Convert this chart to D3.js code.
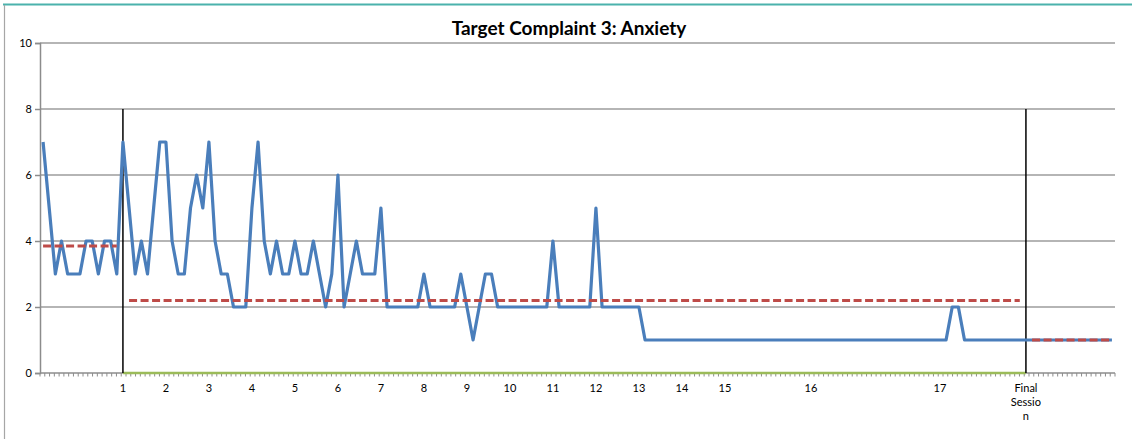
<!DOCTYPE html>
<html>
<head>
<meta charset="utf-8">
<script src="https://cdn.jsdelivr.net/npm/d3@7/dist/d3.min.js"></script>
<style>
  body { margin: 0; background: #ffffff; }
  svg { display: block; }
  text { font-family: Lato, "Open Sans", sans-serif; fill: #000; }
</style>
</head>
<body>
<div id="SvgWrapper"></div>
<script>
// daily ratings, one per day (baseline, treatment, follow-up)
var ratings = [
  7, 5, 3, 4, 3, 3, 3, 4, 4, 3, 4, 4, 3,
  7, 5, 3, 4, 3, 5, 7, 7, 4, 3, 3, 5, 6, 5, 7, 4, 3, 3, 2, 2, 2, 5, 7,
  4, 3, 4, 3, 3, 4, 3, 3, 4, 3, 2, 3, 6, 2, 3, 4, 3, 3, 3, 5, 2,
  2, 2, 2, 2, 2, 3, 2, 2, 2, 2, 2, 3, 2, 1, 2, 3, 3, 2,
  2, 2, 2, 2, 2, 2, 2, 2, 4, 2, 2, 2, 2, 2, 2, 5, 2,
  2, 2, 2, 2, 2, 2, 1,
  1, 1, 1, 1, 1, 1, 1, 1, 1, 1, 1, 1, 1, 1, 1, 1, 1, 1, 1, 1, 1, 1, 1, 1, 1,
  1, 1, 1, 1, 1, 1, 1, 1, 1, 1, 1, 1, 1, 1, 1, 1, 1, 1, 1, 1, 1, 1, 1, 1,
  2, 2, 1, 1, 1, 1, 1, 1, 1, 1, 1, 1,
  1, 1, 1, 1, 1, 1, 1, 1, 1, 1, 1, 1, 1, 1, 1
];

// session labels and the day they fall on
var sessionLabels = ['1', '2', '3', '4', '5', '6', '7', '8', '9', '10', '11', '12', '13', '14', '15', '16', '17', 'Final Session'];
var sessionDays = [13, 20, 27, 34, 41, 48, 55, 62, 69, 76, 83, 90, 97, 104, 111, 125, 146, 160];

// phase mean lines: [first day, last day, mean]
var phaseStart = [0, 14, 161];
var phaseEnd = [12, 159, 174];
var phaseMean = [3.85, 2.2, 1.0];

// phase change markers
var phaseLines = [13, 160];
var phaseLineTop = 8;

var yTicks = [0, 2, 4, 6, 8, 10];
var title = 'Target Complaint 3: Anxiety';

var width = 1132, height = 439;
var margin = { top: 43, right: 17, bottom: 66, left: 40 };
var plotW = width - margin.left - margin.right;
var plotH = height - margin.top - margin.bottom;
var minorTickCount = 225;

var svg = d3.select('#SvgWrapper')
  .append('svg')
  .attr('width', width)
  .attr('height', height)
  .style('background-color', '#FFFFFF');

// outer frame bits
svg.append('line')
  .attr('x1', 3).attr('x2', width)
  .attr('y1', 4.5).attr('y2', 4.5)
  .attr('stroke', '#4bb2ac').attr('stroke-width', 2);
svg.append('line')
  .attr('x1', 4.5).attr('x2', 4.5)
  .attr('y1', 5).attr('y2', height)
  .attr('stroke', '#a6a6a6').attr('stroke-width', 1.2);

svg.append('text')
  .attr('x', 569)
  .attr('y', 35)
  .attr('text-anchor', 'middle')
  .style('font-size', '19px')
  .style('font-weight', 'bold')
  .text(title);

var g = svg.append('g')
  .attr('transform', 'translate(' + margin.left + ',' + margin.top + ')');

var xScale = d3.scaleLinear()
  .domain([0, ratings.length])
  .range([0, plotW]);

var yScale = d3.scaleLinear()
  .domain([0, 10])
  .range([plotH, 0]);

function xDay(d) { return xScale(d + 0.5); }

// gridlines
g.append('g')
  .selectAll('line')
  .data(yTicks.filter(function(d) { return d > 0; }))
  .enter()
    .append('line')
    .attr('x1', 0).attr('x2', plotW)
    .attr('y1', function(d) { return yScale(d); })
    .attr('y2', function(d) { return yScale(d); })
    .attr('stroke', '#9d9d9d')
    .attr('stroke-width', 1.5);

// y axis
var yAxis = d3.axisLeft(yScale).tickValues(yTicks).tickSize(5).tickPadding(3);
var yg = g.append('g').attr('class', 'y axis').call(yAxis);
yg.select('.domain').attr('stroke', '#8c8c8c').attr('stroke-width', 1.5);
yg.selectAll('.tick line').attr('stroke', '#8c8c8c').attr('stroke-width', 1.5);
yg.selectAll('.tick text').style('font-size', '11px').style('font-family', 'Lato, sans-serif');

// x axis line and minor ticks
var xg = g.append('g').attr('class', 'x axis')
  .attr('transform', 'translate(0,' + plotH + ')');
xg.append('line')
  .attr('x1', 0).attr('x2', plotW)
  .attr('stroke', '#8c8c8c').attr('stroke-width', 1.5);
var tickScale = d3.scaleLinear().domain([0, minorTickCount]).range([0, plotW]);
xg.selectAll('.minor')
  .data(d3.range(minorTickCount + 1))
  .enter()
    .append('line')
    .attr('class', 'minor')
    .attr('x1', function(d) { return tickScale(d); })
    .attr('x2', function(d) { return tickScale(d); })
    .attr('y1', 0).attr('y2', 3.5)
    .attr('stroke', '#8c8c8c')
    .attr('stroke-width', 1);

// session labels (wrapped like the original)
var labelG = xg.selectAll('.session')
  .data(sessionLabels)
  .enter()
    .append('text')
    .attr('class', 'session')
    .attr('text-anchor', 'middle')
    .attr('transform', function(d, i) { return 'translate(' + xDay(sessionDays[i]) + ',19)'; })
    .style('font-size', '11px');
labelG.each(function(d) {
  var parts = d === 'Final Session' ? ['Final', 'Sessio', 'n'] : [d];
  d3.select(this).selectAll('tspan')
    .data(parts)
    .enter()
      .append('tspan')
      .attr('x', 0)
      .attr('dy', function(p, j) { return j === 0 ? 0 : 14; })
      .text(function(p) { return p; });
});

// green zero line across treatment
g.append('line')
  .attr('x1', xDay(phaseLines[0])).attr('x2', xDay(phaseLines[1]))
  .attr('y1', yScale(0)).attr('y2', yScale(0))
  .attr('stroke', '#9bbb59')
  .attr('stroke-width', 2.5);

// phase change lines
g.selectAll('.phase')
  .data(phaseLines)
  .enter()
    .append('line')
    .attr('class', 'phase')
    .attr('x1', function(d) { return xDay(d); })
    .attr('x2', function(d) { return xDay(d); })
    .attr('y1', yScale(phaseLineTop))
    .attr('y2', yScale(0))
    .attr('stroke', '#000')
    .attr('stroke-width', 1.5);

// ratings line
var line = d3.line()
  .x(function(d, i) { return xDay(i); })
  .y(function(d) { return yScale(d); });

g.append('path')
  .datum(ratings)
  .attr('d', line)
  .attr('fill', 'none')
  .attr('stroke', '#4a7ebb')
  .attr('stroke-width', 3.2)
  .attr('stroke-linejoin', 'round');

// phase means
g.selectAll('.mean')
  .data(phaseMean)
  .enter()
    .append('line')
    .attr('class', 'mean')
    .attr('x1', function(d, i) { return xDay(phaseStart[i]); })
    .attr('x2', function(d, i) { return xDay(phaseEnd[i]); })
    .attr('y1', function(d) { return yScale(d); })
    .attr('y2', function(d) { return yScale(d); })
    .attr('stroke', '#be4b48')
    .attr('stroke-width', 3)
    .attr('stroke-dasharray', '8,3.5');
</script>
</body>
</html>
